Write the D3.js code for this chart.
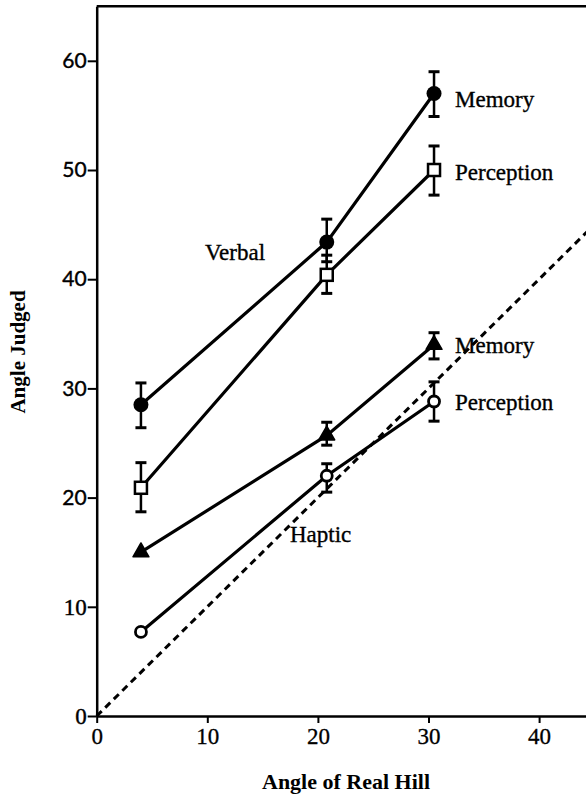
<!DOCTYPE html>
<html><head><meta charset="utf-8">
<script src="https://cdn.jsdelivr.net/npm/d3@7"></script>
<style>
html,body{margin:0;padding:0;background:#fff;}
svg{display:block;}
</style></head>
<body>
<script>
// ---- data ----
const hillAngles = [4, 20.8, 30.5];
const xTicks = [0, 10, 20, 30, 40];
const yTicks = [0, 10, 20, 30, 40, 50, 60];

const verbalMemory = [28.5, 43.4, 57.0];
const verbalMemoryLo = [26.4, 41.6, 54.9];
const verbalMemoryHi = [30.5, 45.5, 59.0];

const verbalPerception = [20.9, 40.4, 50.0];
const verbalPerceptionLo = [18.7, 38.7, 47.7];
const verbalPerceptionHi = [23.2, 42.2, 52.2];

const hapticMemory = [15.0, 25.7, 34.0];
const hapticMemoryLo = [15.0, 24.8, 32.7];
const hapticMemoryHi = [15.0, 26.9, 35.1];

const hapticPerception = [7.7, 22.0, 28.8];
const hapticPerceptionLo = [7.7, 20.5, 27.0];
const hapticPerceptionHi = [7.7, 23.1, 30.6];

const seriesLabels = ["Memory", "Perception", "Memory", "Perception"];
const groupLabels = ["Verbal", "Haptic"];
const xTitle = "Angle of Real Hill";
const yTitle = "Angle Judged";

// ---- drawing ----
const W = 586, H = 794;
const svg = d3.select("body").append("svg").attr("width", W).attr("height", H);

const x0 = 96.7, pxX = 11.06;
const y0 = 716, pxY = 10.92;
const x = d3.scaleLinear().domain([0, 45]).range([x0, x0 + 45 * pxX]);
const y = d3.scaleLinear().domain([0, 65]).range([y0, y0 - 65 * pxY]);

const serif = "'Liberation Serif','Times New Roman',serif";
const sans = "Lato,'Open Sans',sans-serif";

// identity (dashed) line
svg.append("line")
  .attr("x1", x(0)).attr("y1", y(0))
  .attr("x2", x(45)).attr("y2", y(45))
  .attr("stroke", "#000").attr("stroke-width", 3)
  .attr("stroke-dasharray", "7,5");

// axes
const yAxis = svg.append("g").attr("transform", `translate(${x(0)},0)`)
  .call(d3.axisLeft(y).tickValues(yTicks).tickSize(9).tickSizeOuter(0).tickPadding(1));
yAxis.select(".domain").attr("stroke-width", 2.5);
yAxis.selectAll(".tick line").attr("stroke-width", 2);
yAxis.selectAll(".tick text")
  .attr("font-family", d => d >= 20 ? sans : serif)
  .attr("font-size", d => d >= 20 ? 21 : 23)
  .attr("fill", "#000").attr("stroke", "#000").attr("stroke-width", 0.4);

const xAxis = svg.append("g").attr("transform", `translate(0,${y(0)})`)
  .call(d3.axisBottom(x).tickValues(xTicks).tickSize(7).tickSizeOuter(0).tickPadding(5));
xAxis.select(".domain").attr("stroke-width", 2.5);
xAxis.selectAll(".tick line").attr("stroke-width", 2);
xAxis.selectAll(".tick text")
  .attr("font-family", serif).attr("font-size", 23).attr("fill", "#000")
  .attr("stroke", "#000").attr("stroke-width", 0.3);

// top frame line
svg.append("line")
  .attr("x1", x(0)).attr("x2", x(45))
  .attr("y1", y(65)).attr("y2", y(65))
  .attr("stroke", "#000").attr("stroke-width", 2.5);

// series
const series = [
  {v: verbalMemory, lo: verbalMemoryLo, hi: verbalMemoryHi, sym: "fcircle"},
  {v: verbalPerception, lo: verbalPerceptionLo, hi: verbalPerceptionHi, sym: "osquare"},
  {v: hapticMemory, lo: hapticMemoryLo, hi: hapticMemoryHi, sym: "ftri"},
  {v: hapticPerception, lo: hapticPerceptionLo, hi: hapticPerceptionHi, sym: "ocircle"}
];

const line = d3.line().x(d => x(d[0])).y(d => y(d[1]));

series.forEach(s => {
  const pts = hillAngles.map((a, i) => [a, s.v[i]]);
  svg.append("path").attr("d", line(pts))
    .attr("fill", "none").attr("stroke", "#000").attr("stroke-width", 3.2);
  // error bars
  hillAngles.forEach((a, i) => {
    if (s.hi[i] - s.lo[i] < 0.01) return;
    const g = svg.append("g").attr("stroke", "#000").attr("stroke-width", 2.5);
    g.append("line").attr("x1", x(a)).attr("x2", x(a)).attr("y1", y(s.lo[i])).attr("y2", y(s.hi[i]));
    [s.lo[i], s.hi[i]].forEach(e => {
      g.append("line").attr("x1", x(a) - 5.5).attr("x2", x(a) + 5.5)
        .attr("y1", y(e)).attr("y2", y(e)).attr("stroke-width", 3);
    });
  });
  // markers
  hillAngles.forEach((a, i) => {
    const cx = x(a), cy = y(s.v[i]);
    if (s.sym === "fcircle") {
      svg.append("circle").attr("cx", cx).attr("cy", cy).attr("r", 7.5).attr("fill", "#000");
    } else if (s.sym === "osquare") {
      svg.append("rect").attr("x", cx - 6).attr("y", cy - 6).attr("width", 12).attr("height", 12)
        .attr("fill", "#fff").attr("stroke", "#000").attr("stroke-width", 2.5);
    } else if (s.sym === "ftri") {
      svg.append("path").attr("transform", `translate(${cx},${cy})`)
        .attr("d", d3.symbol().type(d3.symbolTriangle).size(110)())
        .attr("fill", "#000").attr("stroke", "#000").attr("stroke-width", 1.5).attr("stroke-linejoin", "round");
    } else {
      svg.append("circle").attr("cx", cx).attr("cy", cy).attr("r", 5.5)
        .attr("fill", "#fff").attr("stroke", "#000").attr("stroke-width", 2.8);
    }
  });
});

// series labels
const labelPos = [[455, 107], [455, 180], [455, 353], [455, 410]];
seriesLabels.forEach((t, i) => {
  svg.append("text").attr("x", labelPos[i][0]).attr("y", labelPos[i][1])
    .attr("font-family", serif).attr("font-size", 23).attr("fill", "#000")
    .attr("stroke", "#000").attr("stroke-width", 0.35).text(t);
});
svg.append("text").attr("x", 205).attr("y", 260)
  .attr("font-family", serif).attr("font-size", 23)
  .attr("stroke", "#000").attr("stroke-width", 0.35).text(groupLabels[0]);
svg.append("text").attr("x", 290).attr("y", 542)
  .attr("font-family", serif).attr("font-size", 23)
  .attr("stroke", "#000").attr("stroke-width", 0.35).text(groupLabels[1]);

// axis titles
svg.append("text").attr("x", 262).attr("y", 789)
  .attr("font-family", serif).attr("font-weight", "bold").attr("font-size", 22)
  .text(xTitle);
svg.append("text").attr("transform", "translate(25,352) rotate(-90)")
  .attr("text-anchor", "middle")
  .attr("font-family", serif).attr("font-weight", "bold").attr("font-size", 21)
  .text(yTitle);
</script>
</body></html>
